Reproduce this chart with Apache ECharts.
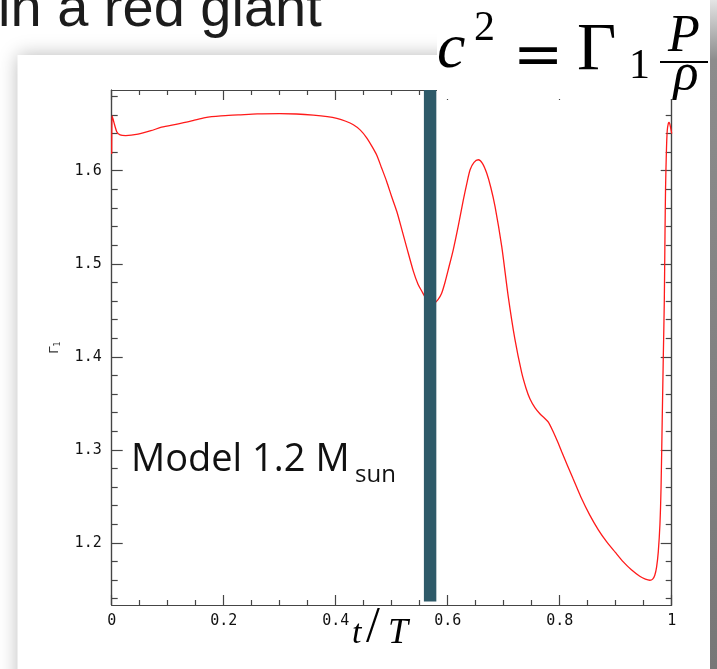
<!DOCTYPE html>
<html>
<head>
<meta charset="utf-8">
<title>Gamma1 profile</title>
<script src="https://cdn.jsdelivr.net/npm/echarts@6.0.0/dist/echarts.min.js"></script>
<style>
  html, body { margin: 0; padding: 0; background: #ffffff; }
  #chart { width: 717px; height: 669px; }
</style>
</head>
<body>
<div id="chart"></div>
<script>
// Acoustic radius t/T and first adiabatic exponent Gamma_1
const tValues = [
  0, 0.0008, 0.004, 0.009, 0.015, 0.025, 0.047, 0.07, 0.089, 0.119,
  0.145, 0.167, 0.195, 0.226, 0.26, 0.3, 0.33, 0.36, 0.385, 0.402,
  0.418, 0.4315, 0.444, 0.455, 0.465, 0.473, 0.482, 0.491, 0.5, 0.509,
  0.518, 0.527, 0.5386, 0.547, 0.5536, 0.562, 0.57, 0.574, 0.578, 0.583,
  0.589, 0.595, 0.602, 0.61, 0.619, 0.628, 0.634, 0.64, 0.647, 0.6546,
  0.662, 0.6696, 0.677, 0.6845, 0.6964, 0.708, 0.72, 0.732, 0.74, 0.747,
  0.756, 0.765, 0.773, 0.78, 0.788, 0.7975, 0.8036, 0.814, 0.824, 0.838,
  0.854, 0.869, 0.884, 0.899, 0.9136, 0.928, 0.943, 0.953, 0.961, 0.966,
  0.9698, 0.973, 0.976, 0.979, 0.981, 0.983, 0.985, 0.9868, 0.988, 0.989,
  0.9905, 0.992, 0.994, 0.9955, 0.9975, 1
];
const gamma1Values = [
  1.618, 1.659, 1.652, 1.642, 1.6385, 1.6378, 1.6393, 1.643, 1.6468, 1.6504,
  1.654, 1.6572, 1.659, 1.660, 1.6612, 1.6615, 1.661, 1.6598, 1.6582, 1.6563,
  1.6532, 1.6494, 1.6437, 1.6357, 1.626, 1.6171, 1.603, 1.5885, 1.572, 1.5564,
  1.537, 1.5171, 1.4921, 1.478, 1.4707, 1.462, 1.4575, 1.4572, 1.4585, 1.4617,
  1.468, 1.4796, 1.496, 1.5153, 1.541, 1.5689, 1.586, 1.6011, 1.609, 1.6118,
  1.608, 1.5975, 1.582, 1.5617, 1.5189, 1.4653, 1.4189, 1.3832, 1.366, 1.3546,
  1.345, 1.3385, 1.334, 1.3296, 1.320, 1.307, 1.298, 1.283, 1.2688, 1.249,
  1.2295, 1.214, 1.201, 1.19, 1.1795, 1.171, 1.1641, 1.161, 1.1598, 1.161,
  1.1652, 1.174, 1.19, 1.22, 1.26, 1.33, 1.40, 1.46, 1.53, 1.58,
  1.62, 1.643, 1.651, 1.652, 1.648, 1.64
];

// Axis ranges and tick positions
const xRange = [0, 1];
const yRange = [1.1332, 1.6868];
const xMajorStep = 0.2;
const yMajorTicks = [1.2, 1.3, 1.4, 1.5, 1.6];
const yMinorTicks = [1.14, 1.16, 1.18, 1.22, 1.24, 1.26, 1.28, 1.32, 1.34, 1.36, 1.38,
                     1.42, 1.44, 1.46, 1.48, 1.52, 1.54, 1.56, 1.58, 1.62, 1.64, 1.66, 1.68];

// Highlighted zone in t/T (vertical band)
const zoneT = [0.5575, 0.5797];
const zoneGamma = [1.137, 1.6868];

const axisColor = '#454545';
const tickFont = { fontFamily: 'DejaVu Sans Mono', fontSize: 15, color: '#111' };

const curve = tValues.map((t, i) => [t, gamma1Values[i]]);

function yAxisDef(position, ticks, len, withLabels) {
  const def = {
    type: 'value', min: yRange[0], max: yRange[1], position: position,
    axisLine: { show: true, lineStyle: { color: axisColor, width: 1.2 } },
    axisTick: { show: true, inside: true, length: len, customValues: ticks,
                lineStyle: { color: axisColor, width: 1.2 } },
    axisLabel: { show: false },
    splitLine: { show: false }
  };
  if (withLabels) {
    def.axisLabel = Object.assign({ show: true, customValues: ticks, margin: 10,
                                    formatter: v => v.toFixed(1) }, tickFont);
    def.name = 'Γ{s|1}';
    def.nameLocation = 'middle';
    def.nameRotate = 90;
    def.nameGap = 50;
    def.nameTextStyle = { fontFamily: 'DejaVu Sans', fontSize: 13, color: '#333',
                          rich: { s: { fontSize: 8, fontFamily: 'DejaVu Sans', color: '#333', padding: [7, 0, 0, 0] } } };
  }
  return def;
}

function xAxisDef(position, withLabels) {
  return {
    type: 'value', min: xRange[0], max: xRange[1], interval: xMajorStep, position: position,
    axisLine: { show: true, onZero: false, lineStyle: { color: axisColor, width: 1.2 } },
    axisTick: { show: true, inside: true, length: 10, lineStyle: { color: axisColor, width: 1.2 } },
    minorTick: { show: true, splitNumber: 4, length: 5, lineStyle: { color: axisColor, width: 1.2 } },
    axisLabel: withLabels ? Object.assign({ show: true, margin: 9 }, tickFont) : { show: false },
    splitLine: { show: false },
    minorSplitLine: { show: false }
  };
}

const chart = echarts.init(document.getElementById('chart'), null, { renderer: 'canvas' });

const serif = 'Liberation Serif';
function glyph(text, x, y, size, opts) {
  return { type: 'text', z: 60, x: x, y: y,
           style: Object.assign({ text: text, fontFamily: serif, fontSize: size, fill: '#000',
                                  align: 'left', verticalAlign: 'middle' }, opts || {}) };
}

const option = {
  animation: false,
  backgroundColor: '#ffffff',
  grid: { left: 111.7, right: 45.3, top: 90, bottom: 64, outerBoundsMode: 'none' },
  xAxis: [ xAxisDef('bottom', true), xAxisDef('top', false) ],
  yAxis: [
    yAxisDef('left', yMajorTicks, 11, true),
    yAxisDef('left', yMinorTicks, 6, false),
    yAxisDef('right', yMajorTicks, 11, false),
    yAxisDef('right', yMinorTicks, 6, false)
  ],
  series: [
    {
      type: 'line', xAxisIndex: 0, yAxisIndex: 0,
      data: curve, showSymbol: false, smooth: 0.25, z: 2,
      lineStyle: { color: '#ff1a1a', width: 1.3 }
    },
    {
      type: 'custom', xAxisIndex: 0, yAxisIndex: 0, z: 4,
      data: [[zoneT[0], zoneT[1], zoneGamma[0], zoneGamma[1]]],
      renderItem: function (params, api) {
        const a = api.coord([api.value(0), api.value(3)]);
        const b = api.coord([api.value(1), api.value(2)]);
        return { type: 'rect', shape: { x: a[0], y: a[1], width: b[0] - a[0], height: b[1] - a[1] },
                 style: { fill: '#2e5a69' } };
      }
    }
  ],
  graphic: [
    // slide panel with soft shadow
    { type: 'rect', z: -20, shape: { x: 17.5, y: 55, width: 720, height: 640 },
      style: { fill: '#ffffff', shadowBlur: 18, shadowColor: 'rgba(0,0,0,0.28)' } },
    { type: 'rect', z: -15, shape: { x: 710, y: 0, width: 7, height: 669 },
      style: { fill: new echarts.graphic.LinearGradient(0, 0, 0, 1, [
        { offset: 0, color: '#e4e4e4' }, { offset: 0.09, color: '#8c8c8c' }, { offset: 1, color: '#777777' }
      ]) } },
    // title fragment
    { type: 'text', z: 60, x: -2, y: 11,
      style: { text: 'in a red giant', fontFamily: 'Liberation Sans', fontSize: 56, fill: '#1c1c1c',
               align: 'left', verticalAlign: 'middle' } },
    // formula box: c^2 = Gamma_1 P / rho
    { type: 'rect', z: 50, shape: { x: 437, y: 12, width: 273, height: 87 }, style: { fill: '#ffffff' } },
    glyph('c', 437, 50, 64, { fontStyle: 'italic' }),
    glyph('2', 474, 29, 42),
    glyph('=', 513, 58, 60, { fontFamily: 'DejaVu Serif' }),
    glyph('Γ', 577, 51, 68),
    glyph('1', 629, 67, 42),
    glyph('P', 684, 37, 52, { fontStyle: 'italic', align: 'center' }),
    { type: 'line', z: 60, shape: { x1: 660, y1: 62, x2: 708, y2: 62 },
      style: { stroke: '#000', lineWidth: 2 } },
    glyph('ρ', 686, 75, 52, { fontStyle: 'italic', align: 'center' }),
    // model annotation
    { type: 'text', z: 60, x: 131, y: 460,
      style: { text: 'Model 1.2 M', fontFamily: 'Open Sans', fontSize: 38, fill: '#111',
               align: 'left', verticalAlign: 'middle' } },
    { type: 'text', z: 60, x: 355, y: 475,
      style: { text: 'sun', fontFamily: 'Open Sans', fontSize: 24, fill: '#111',
               align: 'left', verticalAlign: 'middle' } },
    // x-axis title t/T
    glyph('t', 352, 634, 34, { fontStyle: 'italic' }),
    glyph('/', 366, 628, 50),
    glyph('T', 388, 634, 36, { fontStyle: 'italic' })
  ]
};

chart.setOption(option);
</script>
</body>
</html>
